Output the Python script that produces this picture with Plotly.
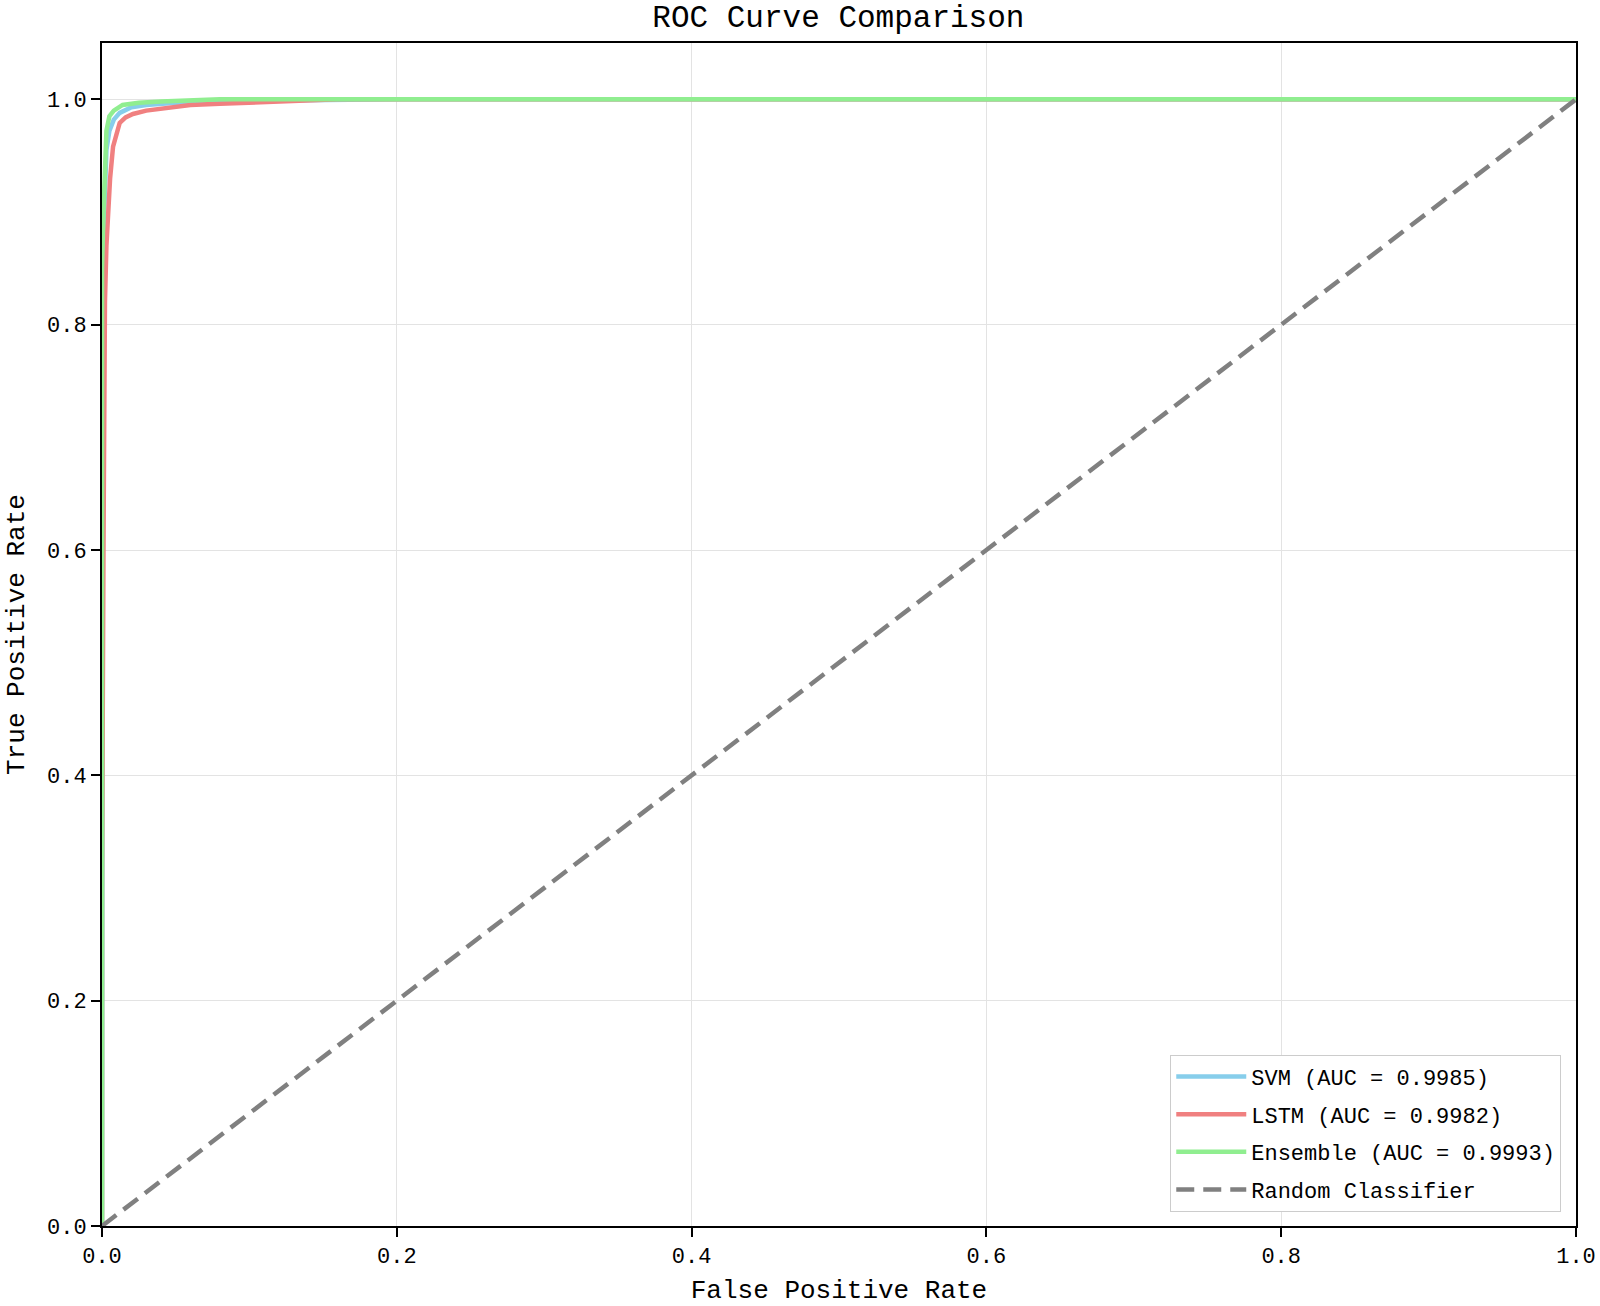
"""ROC curve comparison – SVM / LSTM / Ensemble."""
import plotly.graph_objects as go

# ── Data ─────────────────────────────────────────────────────────────────────
svm_fpr = [0, 0, 0.0005, 0.001, 0.002, 0.003, 0.005, 0.008, 0.012, 0.02,
           0.03, 0.05, 0.08, 0.12, 0.2, 1.0]
svm_tpr = [0, 0.55, 0.80, 0.88, 0.93, 0.955, 0.972, 0.982, 0.988, 0.993,
           0.995, 0.997, 0.998, 0.999, 1.0, 1.0]

lstm_fpr = [0, 0, 0.001, 0.0015, 0.002, 0.003, 0.004, 0.0055, 0.0075, 0.01,
            0.012, 0.016, 0.021, 0.03, 0.04, 0.06, 0.08, 0.105, 0.13, 0.16, 1.0]
lstm_tpr = [0, 0.3, 0.6, 0.75, 0.82, 0.87, 0.90, 0.93, 0.958, 0.972,
            0.979, 0.984, 0.987, 0.99, 0.992, 0.995, 0.996, 0.997, 0.999, 1.0, 1.0]

ens_fpr = [0, 0, 0.001, 0.002, 0.003, 0.005, 0.008, 0.014, 0.025, 0.04,
           0.06, 0.08, 1.0]
ens_tpr = [0, 0.85, 0.90, 0.943, 0.972, 0.985, 0.99, 0.995, 0.997, 0.998,
           0.999, 1.0, 1.0]

rand_x = [0, 1]
rand_y = [0, 1]

labels = ["SVM (AUC = 0.9985)", "LSTM (AUC = 0.9982)",
          "Ensemble (AUC = 0.9993)", "Random Classifier"]
ticks = [0, 0.2, 0.4, 0.6, 0.8, 1.0]

# ── Style ────────────────────────────────────────────────────────────────────
_FONT = "Liberation Mono, DejaVu Sans Mono, monospace"
_SKY = "#87CEEB"
_CORAL = "#F08080"
_LGREEN = "#90EE90"
_GRAY = "#808080"

fig = go.Figure()
series = [(svm_fpr, svm_tpr, _SKY), (lstm_fpr, lstm_tpr, _CORAL),
          (ens_fpr, ens_tpr, _LGREEN)]
for i, (x, y, c) in enumerate(series):
    fig.add_trace(go.Scatter(
        x=x, y=y, mode="lines", name=labels[i], legendgroup=str(i),
        line=dict(color=c, width=4.5),
    ))
fig.add_trace(go.Scatter(
    x=rand_x, y=rand_y, mode="lines", name=labels[3], legendgroup="3",
    line=dict(color=_GRAY, width=4.5, dash="18px,9px"),
))

_axis = dict(
    showline=True, linecolor="black", linewidth=2, mirror=True,
    ticks="outside", ticklen=9, tickwidth=2, tickcolor="black",
    showgrid=True, gridcolor="#e3e3e3", gridwidth=1, zeroline=False,
    tickvals=ticks, tickformat=".1f", automargin=False,
    tickfont=dict(size=22, color="black", family=_FONT),
    title_font=dict(size=26, color="black", family=_FONT),
)

fig.update_layout(
    width=1600, height=1306,
    paper_bgcolor="white", plot_bgcolor="white",
    font=dict(family=_FONT, color="black"),
    margin=dict(l=102, r=24, t=43, b=80),
    title=dict(text="ROC Curve Comparison", x=0.524, xanchor="center",
               y=0.9875, yanchor="middle",
               font=dict(size=31, color="black", family=_FONT)),
    xaxis=dict(_axis, range=[0, 1.0], title=dict(text="False Positive Rate", standoff=14)),
    yaxis=dict(_axis, range=[0, 1.05], title=dict(text="True Positive Rate", standoff=15)),
    legend=dict(
        x=0.99, y=0.012, xanchor="right", yanchor="bottom",
        bgcolor="white", bordercolor="#cccccc", borderwidth=1,
        font=dict(size=22, color="black", family=_FONT),
        tracegroupgap=6, traceorder="grouped", itemwidth=70,
    ),
)

fig.write_html("out.html", config={"displayModeBar": False},
               post_script="document.body.style.margin='0';")
